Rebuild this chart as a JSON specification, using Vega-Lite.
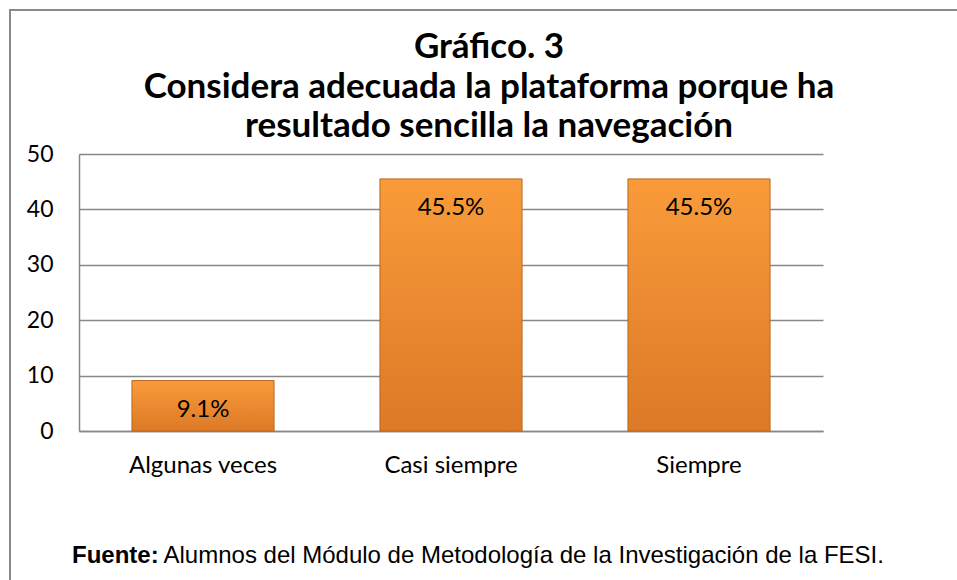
{
  "$schema": "https://vega.github.io/schema/vega-lite/v6.json",
  "autosize": "none",
  "width": 952,
  "height": 575,
  "padding": {"left": 10, "top": 10, "right": -5, "bottom": -5},
  "background": "white",
  "config": {
    "view": {"stroke": "#8a8a8a", "strokeWidth": 2},
    "font": "Lato"
  },
  "title": {
    "text": ["Gráfico. 3", "Considera adecuada la plataforma porque ha", "resultado sencilla la navegación"],
    "font": "Lato",
    "fontSize": 35,
    "fontWeight": "bold",
    "color": "#000000",
    "anchor": "middle",
    "frame": "group",
    "baseline": "top",
    "lineHeight": 39.5,
    "offset": 0,
    "dx": 3,
    "dy": 134
  },
  "data": {
    "values": [
      {"categoria": "Algunas veces", "porcentaje": 9.1, "etiqueta": "9.1%"},
      {"categoria": "Casi siempre", "porcentaje": 45.5, "etiqueta": "45.5%"},
      {"categoria": "Siempre", "porcentaje": 45.5, "etiqueta": "45.5%"}
    ]
  },
  "encoding": {
    "x": {
      "field": "categoria",
      "type": "nominal",
      "sort": null,
      "scale": {"range": [69, 813], "paddingInner": 0.427, "paddingOuter": 0.2135}
    },
    "y": {
      "field": "porcentaje",
      "type": "quantitative",
      "scale": {"domain": [0, 50], "nice": false, "range": [421, 144]},
      "axis": {
        "orient": "left",
        "offset": -69,
        "values": [0, 10, 20, 30, 40, 50],
        "title": null,
        "ticks": false,
        "tickSize": 0,
        "labelPadding": 26,
        "labelFont": "Lato",
        "labelFontSize": 23,
        "labelColor": "#000000",
        "domain": true,
        "domainColor": "#888888",
        "domainWidth": 1.5,
        "grid": true,
        "gridColor": "#888888",
        "gridWidth": 1.5
      }
    }
  },
  "layer": [
    {
      "mark": {
        "type": "bar",
        "color": {
          "gradient": "linear",
          "x1": 0, "y1": 0, "x2": 0, "y2": 1,
          "stops": [
            {"offset": 0, "color": "#F99B3A"},
            {"offset": 1, "color": "#DD7927"}
          ]
        },
        "stroke": "#BD661F",
        "strokeWidth": 1
      },
      "encoding": {
        "x": {
          "field": "categoria",
          "type": "nominal",
          "sort": null,
          "axis": {
            "orient": "bottom",
            "offset": -154,
            "labelAngle": 0,
            "labelFont": "Lato",
            "labelFontSize": 24,
            "labelColor": "#000000",
            "labelPadding": 22,
            "ticks": false,
            "tickSize": 0,
            "domain": true,
            "domainColor": "#888888",
            "domainWidth": 1.5,
            "grid": false,
            "title": "Fuente:",
            "titleFont": "Liberation Sans",
            "titleFontSize": 24,
            "titleFontWeight": "bold",
            "titleColor": "#000000",
            "titleAlign": "left",
            "titleAnchor": "start",
            "titleBaseline": "alphabetic",
            "titleX": 61.5,
            "titleY": 131
          }
        }
      }
    },
    {
      "mark": {
        "type": "text",
        "baseline": "middle",
        "dy": 29,
        "font": "Lato",
        "fontSize": 24,
        "color": "#000000"
      },
      "encoding": {
        "text": {"field": "etiqueta"},
        "x": {
          "field": "categoria",
          "type": "nominal",
          "sort": null,
          "axis": {
            "orient": "bottom",
            "offset": -154,
            "labels": false,
            "ticks": false,
            "domain": false,
            "grid": false,
            "title": "Alumnos del Módulo de Metodología de la Investigación de la FESI.",
            "titleFont": "Liberation Sans",
            "titleFontSize": 24,
            "titleFontWeight": "normal",
            "titleColor": "#000000",
            "titleAlign": "left",
            "titleAnchor": "start",
            "titleBaseline": "alphabetic",
            "titleX": 153,
            "titleY": 131
          }
        }
      }
    }
  ],
  "resolve": {"axis": {"x": "independent"}}
}
